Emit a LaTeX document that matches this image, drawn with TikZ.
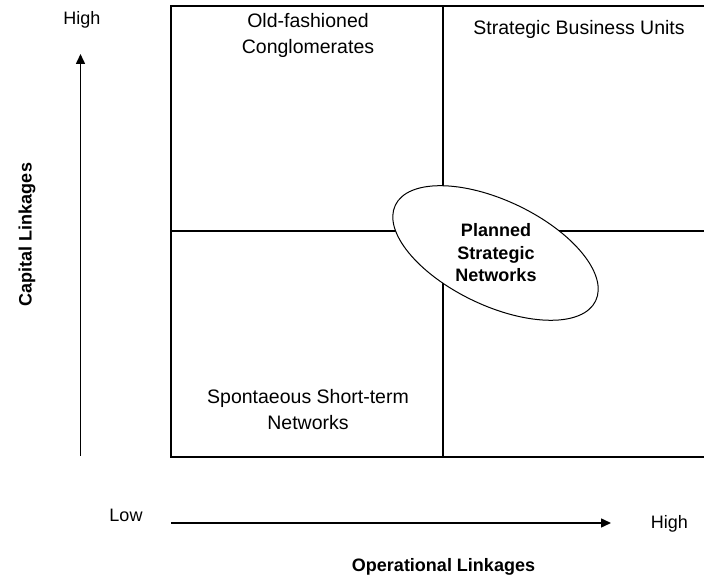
\documentclass[tikz,border=0pt]{standalone}
\usepackage{fontspec}
\setmainfont{Liberation Sans}
\usetikzlibrary{arrows.meta,shapes.geometric}
\begin{document}
\begin{tikzpicture}[x=1pt,y=1pt,
  quad/.style={font=\fontsize{19.5}{25.5}\selectfont, align=center, inner sep=0pt},
  axlabel/.style={font=\fontsize{18}{21}\selectfont, inner sep=0pt, anchor=base},
  axtitle/.style={font=\fontsize{18}{21}\selectfont\bfseries, inner sep=0pt, anchor=base},
  axarrow/.style={line width=1.5pt, -{Triangle[length=10pt,width=9pt]}},
  gridline/.style={line width=2pt}]
\useasboundingbox (0,0) rectangle (704,578);
% quadrant frame
\coordinate (tl) at (171,572);
\coordinate (br) at (708,121);
\draw[gridline] (tl) rectangle (br);
\coordinate (vt) at (443,572);
\coordinate (vb) at (443,121);
\coordinate (hl) at (171,347);
\coordinate (hr) at (708,347);
\draw[gridline] (vt) -- (vb);
\draw[gridline] (hl) -- (hr);
% ellipse
\node (ell) [ellipse, draw, fill=white, line width=1pt, minimum width=222pt, minimum height=105pt, inner sep=0pt, rotate=-25.5] at (495.5,325) {};
\node (pln) [font=\fontsize{18}{22.5}\selectfont\bfseries, align=center, inner sep=0pt] at (496,325) {Planned\\Strategic\\Networks};
% quadrant texts
\node (ofc) [quad] at (308,542.6) {Old-fashioned\\Conglomerates};
\node (sbu) [quad, anchor=base] at (579,543) {Strategic Business Units};
\node (sst) [quad] at (308,168.5) {Spontaeous Short-term\\Networks};
% axes
\coordinate (va0) at (80.5,122);
\coordinate (va1) at (80.5,524);
\draw[axarrow] (va0) -- (va1);
\coordinate (ha0) at (171,55);
\coordinate (ha1) at (611,55);
\draw[axarrow] (ha0) -- (ha1);
\node (hiy) [axlabel] at (82,553) {High};
\node (low) [axlabel] at (126,56) {Low};
\node (hix) [axlabel] at (669.5,49) {High};
\node (opl) [axtitle] at (443.5,6) {Operational Linkages};
\node (cpl) [axtitle, rotate=90] at (31.5,343.5) {Capital Linkages};
\end{tikzpicture}
\end{document}
